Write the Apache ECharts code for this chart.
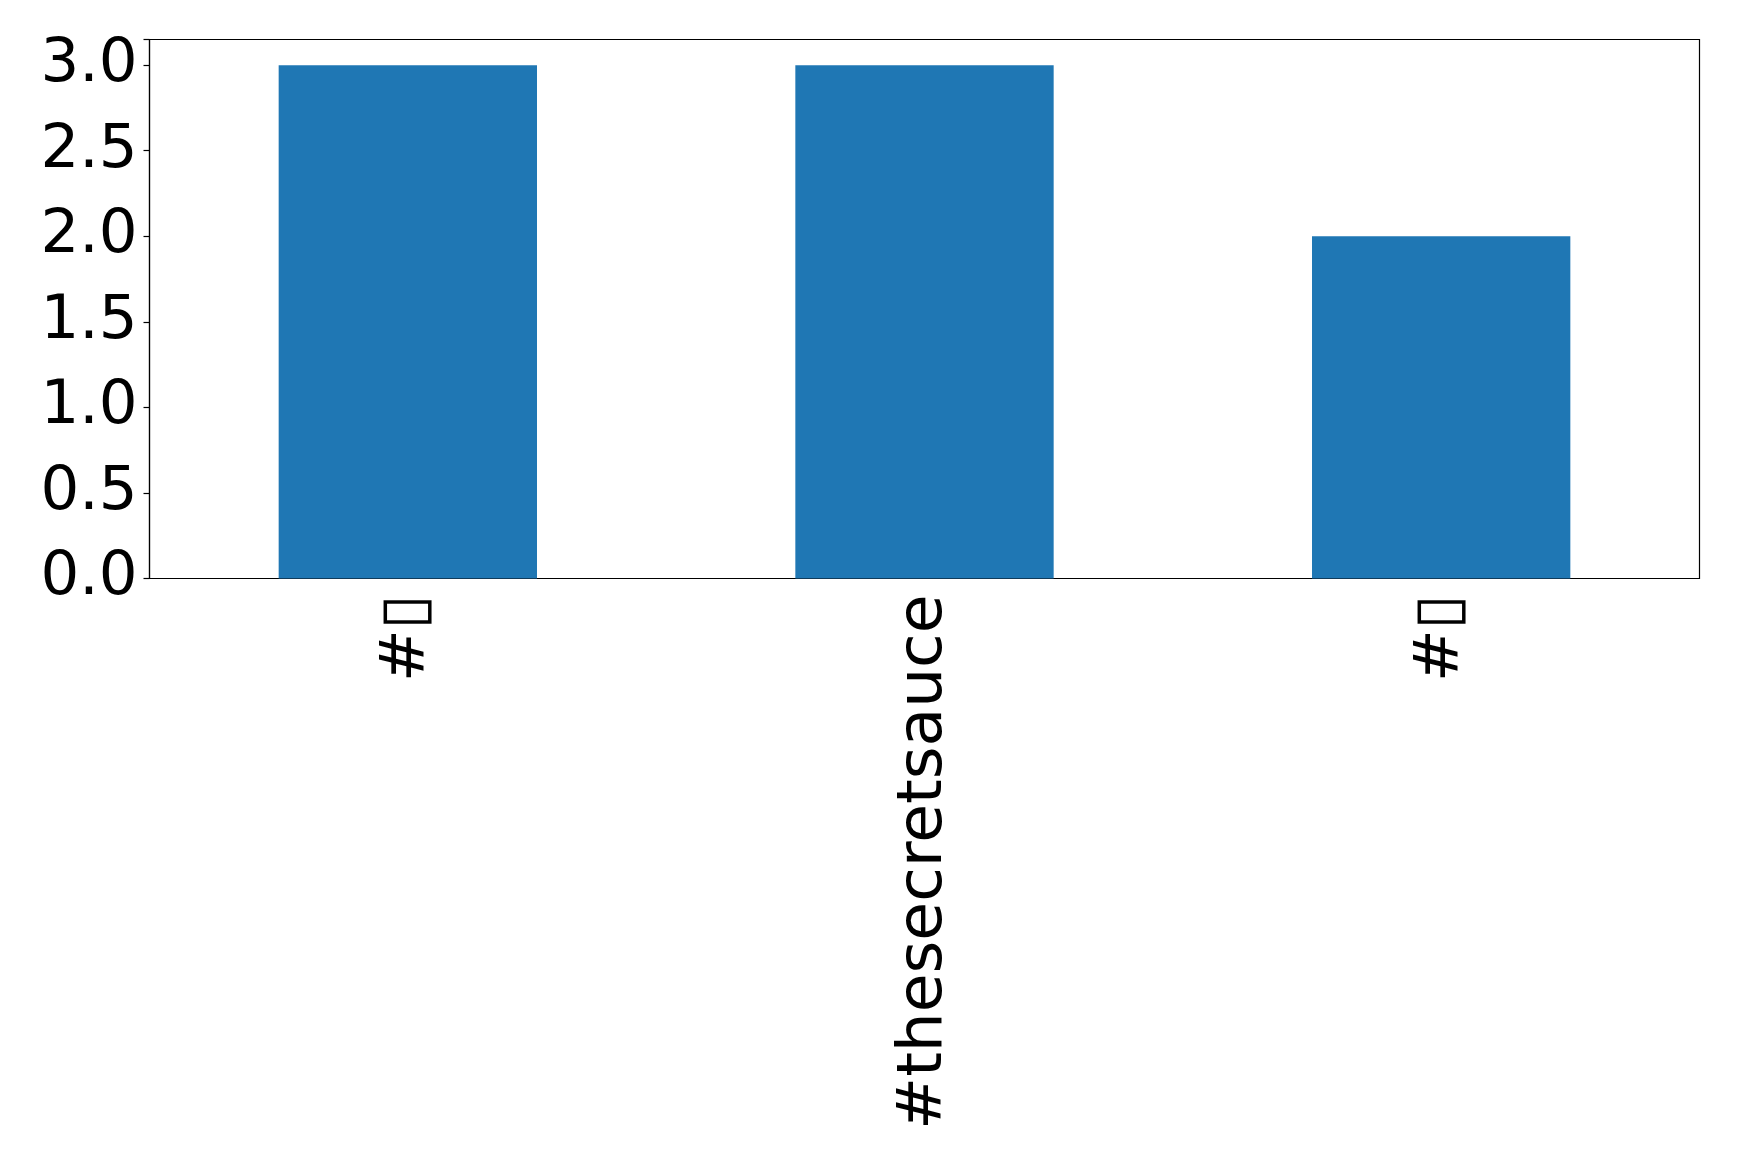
<!DOCTYPE html>
<html><head><meta charset="utf-8">
<script src="https://cdn.jsdelivr.net/npm/echarts@6/dist/echarts.min.js"></script>
<style>html,body{margin:0;padding:0;background:#fff}#c{width:1739px;height:1159px}</style>
</head><body><div id="c"></div>
<script>
const categories = ['#\u25AF', '#thesecretsauce', '#\u25AF'];
const values = [3, 3, 2];
const yTicks = [0, 0.5, 1.0, 1.5, 2.0, 2.5, 3.0];

const chart = echarts.init(document.getElementById('c'), null, {renderer: 'canvas'});
chart.setOption({
  animation: false,
  backgroundColor: '#ffffff',
  grid: {left: 149.5, right: 39.5, top: 39.5, bottom: 580.5, show: true, borderColor: '#000', borderWidth: 1.2, containLabel: false},
  xAxis: {
    type: 'category', data: categories,
    axisLine: {lineStyle: {color: '#000', width: 1.2}},
    axisTick: {alignWithLabel: true, inside: false, length: 6, lineStyle: {color: '#000', width: 1.2}},
    axisLabel: {rotate: 90, margin: 16, fontSize: 63, color: '#000', fontFamily: 'DejaVu Sans'},
    splitLine: {show: false}
  },
  yAxis: {
    type: 'value', min: 0, max: 3.15, interval: 0.5,
    axisLine: {show: true, lineStyle: {color: '#000', width: 1.2}},
    axisTick: {show: true, length: 6, lineStyle: {color: '#000', width: 1.2}},
    axisLabel: {margin: 12, fontSize: 61, color: '#000', fontFamily: 'DejaVu Sans',
      formatter: v => yTicks.some(t => Math.abs(t - v) < 1e-9) ? v.toFixed(1) : ''},
    splitLine: {show: false}
  },
  series: [{type: 'bar', data: values, barWidth: '50%', itemStyle: {color: '#1f77b4'}}]
});
</script></body></html>
